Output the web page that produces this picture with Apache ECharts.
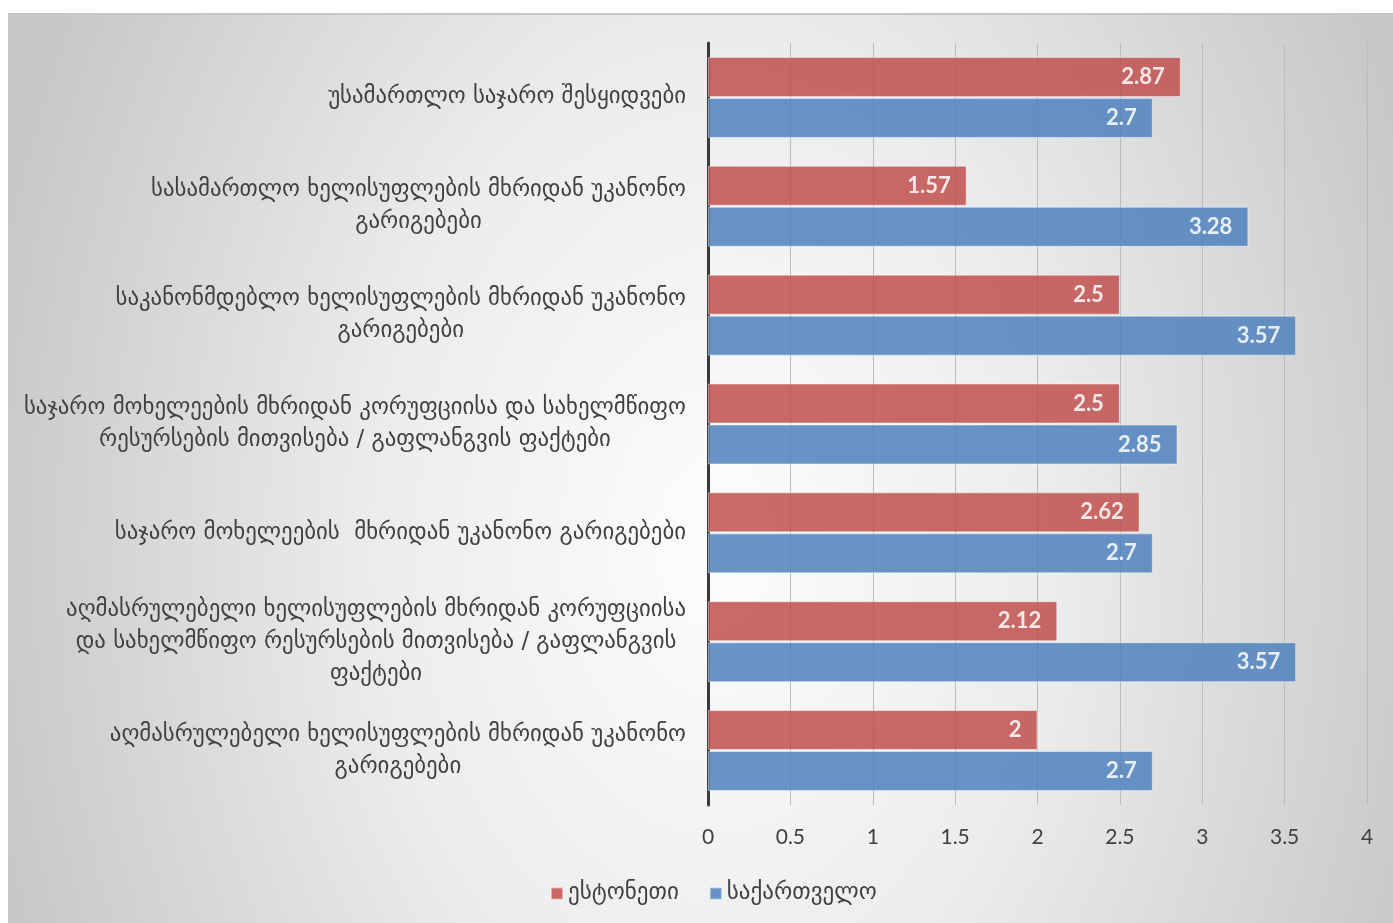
<!DOCTYPE html>
<html>
<head>
<meta charset="utf-8">
<script src="https://cdn.jsdelivr.net/npm/echarts@6/dist/echarts.min.js"></script>
<style>
  html, body { margin: 0; padding: 0; background: #ffffff; }
  #chart {
    position: absolute; left: 8px; top: 13px; width: 1385px; height: 910px;
    box-sizing: border-box; border-top: 2px solid #c6c6c6;
    background: radial-gradient(ellipse 760px 1100px at 51% 58%, #fdfdfd 0%, #ececec 45%, #c6c6c6 100%);
  }
</style>
</head>
<body>
<div id="chart"></div>
<script>
// Survey categories (top to bottom)
const categories = [
  'უსამართლო საჯარო შესყიდვები',
  'სასამართლო ხელისუფლების მხრიდან უკანონო\nგარიგებები',
  'საკანონმდებლო ხელისუფლების მხრიდან უკანონო\nგარიგებები',
  'საჯარო მოხელეების მხრიდან კორუფციისა და სახელმწიფო\nრესურსების მითვისება / გაფლანგვის ფაქტები',
  'საჯარო მოხელეების  მხრიდან უკანონო გარიგებები',
  'აღმასრულებელი ხელისუფლების მხრიდან კორუფციისა\nდა სახელმწიფო რესურსების მითვისება / გაფლანგვის\nფაქტები',
  'აღმასრულებელი ხელისუფლების მხრიდან უკანონო\nგარიგებები'
];
const estoniaName = 'ესტონეთი';
const georgiaName = 'საქართველო';
const estonia = [2.87, 1.57, 2.5, 2.5, 2.62, 2.12, 2];
const georgia = [2.7, 3.28, 3.57, 2.85, 2.7, 3.57, 2.7];

const chart = echarts.init(document.getElementById('chart'), null, { renderer: 'canvas' });

const catFont = 'DejaVu Sans';
const numFont = 'Lato, "Open Sans", sans-serif';

function barSeries(name, data, color) {
  return {
    name: name,
    type: 'bar',
    data: data,
    barWidth: 40,
    barGap: '2.5%',
    itemStyle: {
      color: color,
      opacity: 0.85,
      borderColor: 'rgba(255,255,255,0.55)',
      borderWidth: 1
    },
    label: {
      show: true,
      position: 'insideRight',
      distance: 16,
      color: '#ffffff',
      fontFamily: numFont,
      fontWeight: 'bold',
      fontSize: 22
    }
  };
}

chart.setOption({
  animation: false,
  backgroundColor: 'transparent',
  grid: { left: 700, right: 26, top: 28, bottom: 118, containLabel: false },
  legend: {
    left: 537,
    top: 862,
    itemWidth: 12,
    itemHeight: 12,
    itemGap: 30,
    icon: 'rect',
    textStyle: { color: '#404040', fontFamily: catFont, fontSize: 23 },
    data: [estoniaName, georgiaName]
  },
  xAxis: {
    type: 'value',
    min: 0,
    max: 4,
    interval: 0.5,
    axisLine: { show: false },
    axisTick: { show: false },
    axisLabel: { color: '#404040', fontFamily: numFont, fontSize: 21, margin: 22 },
    splitLine: { show: true, lineStyle: { color: '#bcbcbc', width: 1 } }
  },
  yAxis: {
    type: 'category',
    inverse: true,
    data: categories,
    axisLine: { show: true, lineStyle: { color: '#3a3a3a', width: 3 } },
    axisTick: { show: false },
    axisLabel: {
      margin: 22,
      align: 'right',
      formatter: function (v) {
        return v.split('\n').map(function (s) { return '{c|' + s + '}'; }).join('\n');
      },
      rich: {
        c: { align: 'center', color: '#404040', fontFamily: catFont, fontSize: 22.8, lineHeight: 32 }
      }
    }
  },
  series: [
    barSeries(estoniaName, estonia, '#C0504D'),
    barSeries(georgiaName, georgia, '#4F81BD')
  ]
});
</script>
</body>
</html>
